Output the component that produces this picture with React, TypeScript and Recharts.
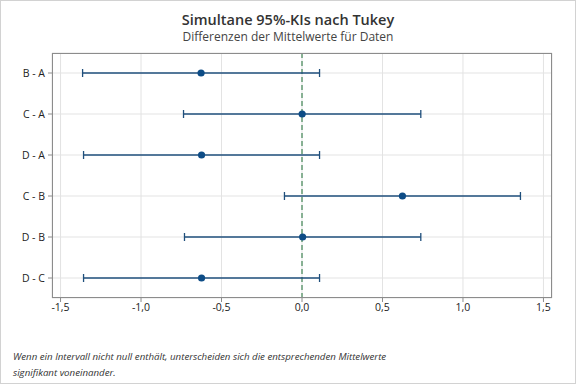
import React from "react"
import {
  CartesianGrid,
  ComposedChart,
  ErrorBar,
  ReferenceLine,
  Scatter,
  XAxis,
  YAxis,
} from "recharts"

const comparisons = ["B - A", "C - A", "D - A", "C - B", "D - B", "D - C"]
const diffs = [-0.627, 0.001, -0.624, 0.624, 0.004, -0.624]
const lowers = [-1.363, -0.736, -1.357, -0.109, -0.73, -1.357]
const uppers = [0.109, 0.738, 0.109, 1.357, 0.738, 0.109]
const xTicks = [-1.5, -1.0, -0.5, 0, 0.5, 1.0, 1.5]

const data = comparisons.map((name, i) => ({
  name,
  diff: diffs[i],
  err: [diffs[i] - lowers[i], uppers[i] - diffs[i]],
}))

const font = "'Open Sans', 'Noto Sans', sans-serif"
const lo = -1.553
const hi = 1.553

const Dot = (props: any) => <circle cx={props.cx} cy={props.cy} r={3.6} fill="#0d4c86" />

export default function App() {
  return (
    <div
      style={{
        position: "absolute",
        left: 0,
        top: 0,
        width: 576,
        height: 384,
        background: "#fff",
        fontFamily: font,
        color: "#333",
      }}
    >
      <div style={{ position: "absolute", top: 10, width: 576, textAlign: "center", fontSize: 14.5, fontWeight: 600, lineHeight: "20px" }}>
        Simultane 95%-KIs nach Tukey
      </div>
      <div style={{ position: "absolute", top: 29, width: 576, textAlign: "center", fontSize: 12, lineHeight: "16px", color: "#444" }}>
        Differenzen der Mittelwerte für Daten
      </div>
      {/* plot frame */}
      <div
        style={{
          position: "absolute",
          left: 52,
          top: 53,
          width: 500,
          height: 245,
          boxSizing: "border-box",
          border: "1px solid #8c8c8c",
          pointerEvents: "none",
          zIndex: 1,
        }}
      />
      <ComposedChart
        width={576}
        height={384}
        layout="vertical"
        data={data}
        margin={{ top: 53, right: 24, bottom: 56, left: 0 }}
      >
        <CartesianGrid stroke="#e3e3e3" />
        <XAxis
          type="number"
          dataKey="diff"
          domain={[lo, hi]}
          ticks={xTicks}
          allowDataOverflow
          height={30}
          tickSize={4}
          tickMargin={2}
          axisLine={false}
          tickLine={{ stroke: "#8c8c8c" }}
          tick={{ fontSize: 10.5, fill: "#222", fontFamily: font }}
          tickFormatter={(v) => v.toFixed(1).replace(".", ",")}
        />
        <YAxis
          type="category"
          dataKey="name"
          width={52}
          padding={{ top: 20, bottom: 20 }}
          tickSize={4}
          tickMargin={3}
          axisLine={false}
          tickLine={{ stroke: "#8c8c8c" }}
          tick={{ fontSize: 10.5, fill: "#222", fontFamily: font }}
        />
        <ReferenceLine x={0} stroke="#1f7036" strokeDasharray="5 3" strokeWidth={1} />
        <Scatter dataKey="diff" isAnimationActive={false} shape={Dot}>
          <ErrorBar dataKey="err" direction="x" width={4} stroke="#1f4f7c" strokeWidth={1.3} isAnimationActive={false} />
        </Scatter>
      </ComposedChart>
      <div
        style={{
          position: "absolute",
          left: 13,
          top: 349,
          fontSize: 9.7,
          fontStyle: "italic",
          lineHeight: "16px",
          color: "#333",
        }}
      >
        Wenn ein Intervall nicht null enthält, unterscheiden sich die entsprechenden Mittelwerte
        <br />
        signifikant voneinander.
      </div>
      <div
        style={{
          position: "absolute",
          left: 0,
          top: 0,
          width: 576,
          height: 384,
          boxSizing: "border-box",
          border: "1px solid #d2d2d2",
          pointerEvents: "none",
        }}
      />
    </div>
  )
}
